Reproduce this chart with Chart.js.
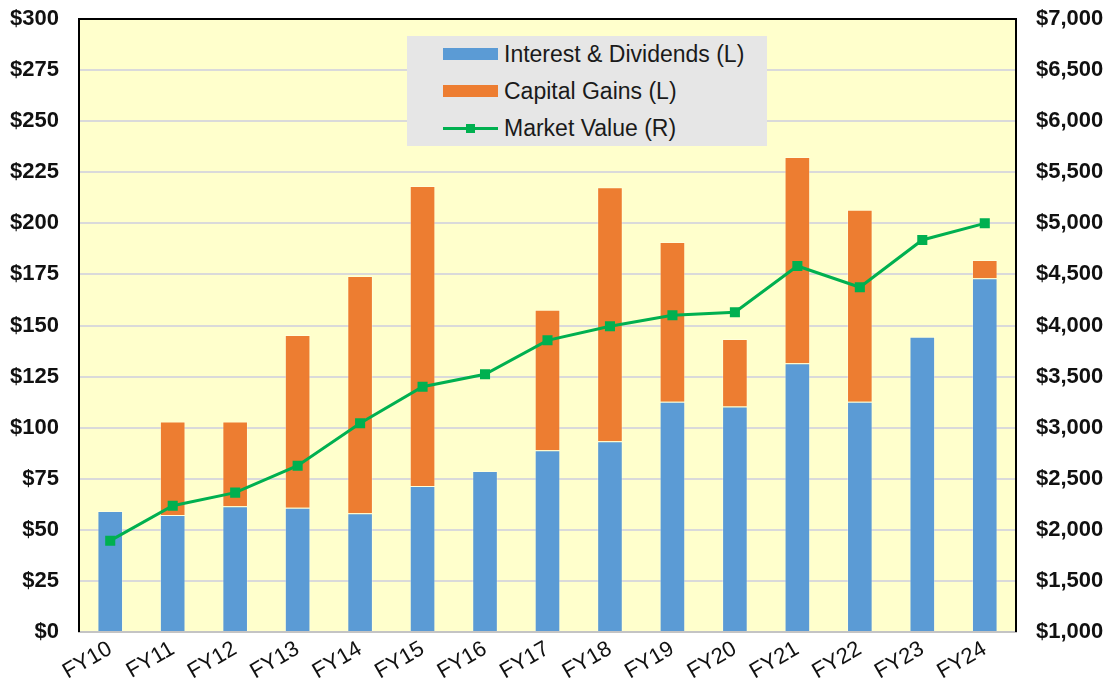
<!DOCTYPE html>
<html>
<head>
<meta charset="utf-8">
<script src="https://cdn.jsdelivr.net/npm/chart.js@4.4.1/dist/chart.umd.min.js"></script>
<style>
  body { margin: 0; background: #fff; font-family: "Liberation Sans", Arial, sans-serif; }
  #wrap { position: relative; width: 1110px; height: 688px; }
  #legend { position: absolute; left: 407px; top: 36px; width: 360px; height: 110px; background: #e6e6e6; }
  .lg-row { position: absolute; left: 36px; height: 26px; display: flex; align-items: center; font-size: 23px; color: #1a1a1a; }
  .lg-sw { width: 55px; height: 12px; margin-right: 6px; position: relative; }
  .lg-line { width: 55px; height: 3px; margin-right: 6px; position: relative; }
  .lg-line i { position: absolute; left: 23px; top: -3px; width: 9px; height: 9px; }
</style>
</head>
<body>
<div id="wrap">
  <canvas id="chart" width="1110" height="688"></canvas>
  <div id="legend"></div>
</div>
<script>
const years = ['FY10', 'FY11', 'FY12', 'FY13', 'FY14', 'FY15', 'FY16', 'FY17', 'FY18', 'FY19', 'FY20', 'FY21', 'FY22', 'FY23', 'FY24'];
const interestDividends = [59.2, 57.3, 61.5, 60.8, 58.1, 71.5, 78.8, 89.0, 93.3, 112.7, 110.3, 131.5, 112.7, 144.5, 173.1];
const capitalGains = [0, 45.7, 41.5, 84.5, 116.1, 146.8, 0, 68.7, 124.3, 78.2, 33.1, 101.0, 94.0, 0, 9.0];
const marketValue = [1894, 2236, 2364, 2628, 3043, 3401, 3522, 3855, 3992, 4100, 4129, 4582, 4374, 4837, 5000];

const BLUE = '#5b9bd5', ORANGE = '#ed7d31', GREEN = '#00b050';
const money = (v) => '$' + Number(v).toLocaleString('en-US');

// yellow plot area + black frame on top/left/right
const plotFrame = {
  id: 'plotFrame',
  beforeDraw(c) {
    const a = c.chartArea, ctx = c.ctx;
    ctx.save();
    ctx.fillStyle = '#ffffcc';
    ctx.fillRect(a.left, a.top, a.right - a.left, a.bottom - a.top);
    ctx.restore();
  },
  afterDraw(c) {
    const a = c.chartArea, ctx = c.ctx;
    ctx.save();
    ctx.strokeStyle = '#000';
    ctx.lineWidth = 2;
    ctx.beginPath();
    ctx.moveTo(a.left, a.bottom);
    ctx.lineTo(a.left, a.top);
    ctx.lineTo(a.right, a.top);
    ctx.lineTo(a.right, a.bottom);
    ctx.stroke();
    ctx.restore();
  },
};

const FAM = '"Liberation Sans", Arial, sans-serif';
const tickFont = { family: FAM, size: 22, weight: 'bold' };
const edge = 'rgba(255,255,255,0.3)';
const NONE = 'rgba(0,0,0,0)';

const chart = new Chart(document.getElementById('chart'), {
  data: {
    labels: years,
    datasets: [
      { type: 'line', label: 'Market Value (R)', data: marketValue, yAxisID: 'y2', order: 0,
        borderColor: GREEN, backgroundColor: GREEN, borderWidth: 3, pointStyle: 'rect',
        pointRadius: 5, pointHoverRadius: 5, tension: 0 },
      { type: 'bar', label: 'Interest & Dividends (L)', data: interestDividends, yAxisID: 'y', order: 1,
        backgroundColor: BLUE, borderColor: edge, borderWidth: 1, borderSkipped: 'bottom',
        barPercentage: 0.41, categoryPercentage: 1 },
      { type: 'bar', label: 'Capital Gains (L)', data: capitalGains, yAxisID: 'y', order: 1,
        backgroundColor: ORANGE, borderColor: edge, borderWidth: 1, borderSkipped: 'bottom',
        barPercentage: 0.41, categoryPercentage: 1 },
    ],
  },
  options: {
    responsive: false, animation: false,
    layout: { padding: { top: 19, left: 0, right: 0, bottom: 0 } },
    plugins: { legend: { display: false }, tooltip: { enabled: false } },
    scales: {
      x: {
        stacked: true,
        grid: { display: false, drawTicks: false },
        border: { color: '#c4c4c4', width: 2 },
        ticks: { color: '#111', font: { family: FAM, size: 22 }, minRotation: 30, maxRotation: 30, padding: 4 },
        afterFit: (s) => { s.height = 56; },
      },
      y: {
        stacked: true, min: 0, max: 300,
        ticks: { stepSize: 25, color: '#111', font: tickFont, padding: 0, callback: money },
        grid: { color: '#dadada', lineWidth: 2, drawTicks: true, tickLength: 20, tickColor: NONE },
        border: { display: false },
        afterFit: (s) => { s.width = 79; },
      },
      y2: {
        position: 'right', min: 1000, max: 7000,
        ticks: { stepSize: 500, color: '#111', font: tickFont, padding: 0, callback: money },
        grid: { display: true, drawOnChartArea: false, drawTicks: true, tickLength: 20, tickColor: NONE },
        border: { display: false },
        afterFit: (s) => { s.width = 94; },
      },
    },
  },
  plugins: [plotFrame],
});

// legend built from the datasets, in the reference's order
const lg = document.getElementById('legend');
[1, 2, 0].forEach((i, row) => {
  const ds = chart.data.datasets[i];
  const r = document.createElement('div');
  r.className = 'lg-row';
  r.style.top = (5 + row * 37) + 'px';
  const sw = document.createElement('span');
  if (ds.type === 'line') {
    sw.className = 'lg-line';
    sw.style.background = ds.borderColor;
    const m = document.createElement('i');
    m.style.background = ds.borderColor;
    sw.append(m);
  } else {
    sw.className = 'lg-sw';
    sw.style.background = ds.backgroundColor;
  }
  r.append(sw, document.createTextNode(ds.label));
  lg.append(r);
});
</script>
</body>
</html>
